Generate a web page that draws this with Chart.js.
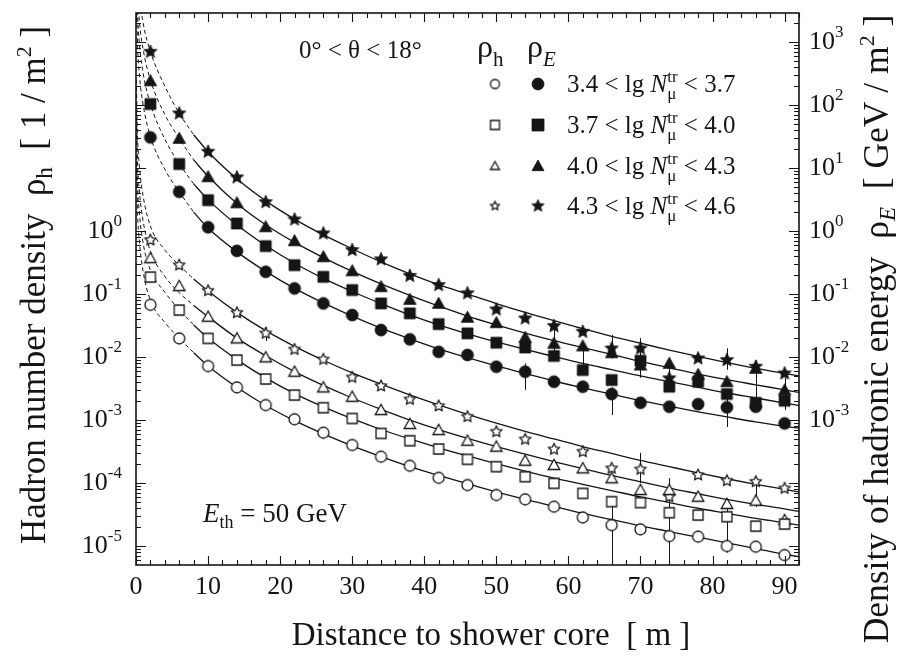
<!DOCTYPE html>
<html>
<head>
<meta charset="utf-8">
<script src="https://cdn.jsdelivr.net/npm/chart.js@4.4.1/dist/chart.umd.min.js"></script>
<style>
html, body { margin: 0; padding: 0; background: #fff; }
#wrap { width: 908px; height: 656px; }
</style>
</head>
<body>
<div id="wrap"><canvas id="c" width="908" height="656"></canvas></div>
<script>
// distance of the bins [m]
const distances = [2, 6, 10, 14, 18, 22, 26, 30, 34, 38, 42, 46, 50, 54, 58, 62, 66, 70, 74, 78, 82, 86, 90];

// hadron number density rho_h [1/m^2], open symbols, left axis
const rhoH1 = [0.0676, 0.0198, 0.00719, 0.00330, 0.00173, 0.00103, 0.000630, 0.000401, 0.000262, 0.000188, 0.000121, 0.0000929, 0.0000646, 0.0000551, 0.0000421, 0.0000285, 0.0000215, 0.0000184, 0.0000144, 0.0000141, 0.0000100, 0.00000975, 0.00000719];
const rhoH2 = [0.186, 0.0557, 0.0198, 0.00895, 0.00448, 0.00249, 0.00157, 0.00106, 0.000614, 0.000470, 0.000347, 0.000238, 0.000182, 0.000126, 0.0000989, 0.0000685, 0.0000506, 0.0000488, 0.0000338, 0.0000310, 0.0000292, 0.0000207, 0.0000223];
const rhoH3 = [0.372, 0.134, 0.0437, 0.0198, 0.00989, 0.00585, 0.00330, 0.00234, 0.00144, 0.000865, 0.000693, 0.000470, 0.000378, 0.000226, 0.000193, 0.000171, 0.000119, 0.0000774, 0.0000774, 0.0000607, 0.0000465, 0.0000525, 0.0000259];
const rhoH4 = [0.719, 0.288, 0.113, 0.0505, 0.0238, 0.0132, 0.00918, 0.00476, 0.00347, 0.00213, 0.00167, 0.00113, 0.000653, 0.000493, 0.000343, 0.000314, 0.000171, 0.000165, 0.0000607, 0.000134, 0.000109, 0.000105, 0.0000822];

// hadronic energy density rho_E [GeV/m^2], filled symbols, right axis
const rhoE1 = [30.7, 4.21, 1.15, 0.486, 0.226, 0.123, 0.0711, 0.0465, 0.0269, 0.0191, 0.0121, 0.0108, 0.00703, 0.00585, 0.00406, 0.00338, 0.00259, 0.00188, 0.00163, 0.00179, 0.00159, 0.00163, 0.000885];
const rhoE2 = [104, 11.6, 3.10, 1.32, 0.578, 0.288, 0.188, 0.116, 0.0711, 0.0494, 0.0334, 0.0238, 0.0169, 0.0142, 0.0104, 0.00622, 0.00432, 0.00875, 0.00338, 0.00406, 0.00259, 0.00188, 0.00203];
const rhoE3 = [243, 29.6, 7.28, 2.81, 1.17, 0.701, 0.391, 0.234, 0.131, 0.0824, 0.0711, 0.0427, 0.0351, 0.0205, 0.0165, 0.0150, 0.0117, 0.00746, 0.00793, 0.0053, 0.00406, 0.00661, 0.0030];
const rhoE4 = [702, 73.8, 18.2, 7.11, 2.88, 1.53, 0.918, 0.499, 0.356, 0.195, 0.139, 0.103, 0.0571, 0.0411, 0.0310, 0.0252, 0.0137, 0.0137, 0.00459, 0.00953, 0.00895, 0.00703, 0.00551];

// fitted lateral distributions
const fitX = [0.05, 0.2, 0.5, 1, 2, 4, 6, 8, 10, 14, 18, 22, 26, 30, 34, 38, 42, 46, 50, 54, 58, 62, 66, 70, 74, 78, 82, 86, 90, 92];
const fitH1 = [15.8, 2.24, 0.631, 0.224, 0.0794, 0.0355, 0.0200, 0.0117, 0.00724, 0.00331, 0.00170, 0.000977, 0.000603, 0.000389, 0.000263, 0.000182, 0.000132, 0.0000977, 0.0000724, 0.0000550, 0.0000427, 0.0000331, 0.0000263, 0.0000209, 0.0000170, 0.0000138, 0.0000112, 0.00000912, 0.00000741, 0.00000676];
const fitH2 = [44.7, 6.31, 1.78, 0.631, 0.240, 0.107, 0.0562, 0.0324, 0.0200, 0.00912, 0.00468, 0.00263, 0.00162, 0.00105, 0.000708, 0.000501, 0.000363, 0.000269, 0.000204, 0.000155, 0.000120, 0.0000955, 0.0000759, 0.0000603, 0.0000490, 0.0000398, 0.0000331, 0.0000275, 0.0000234, 0.0000214];
const fitH3 = [100, 14.1, 3.98, 1.41, 0.479, 0.191, 0.105, 0.0661, 0.0437, 0.0200, 0.0105, 0.00589, 0.00355, 0.00224, 0.00148, 0.00100, 0.000708, 0.000513, 0.000380, 0.000288, 0.000219, 0.000170, 0.000132, 0.000105, 0.0000832, 0.0000676, 0.0000550, 0.0000457, 0.0000389, 0.0000355];
const fitH4 = [251, 35.5, 10, 3.55, 1.20, 0.501, 0.288, 0.174, 0.112, 0.0513, 0.0263, 0.0148, 0.00891, 0.00562, 0.00372, 0.00251, 0.00174, 0.00123, 0.000891, 0.000661, 0.000501, 0.000380, 0.000295, 0.000229, 0.000182, 0.000145, 0.000117, 0.0000955, 0.0000794, 0.0000724];
const fitE1 = [8910, 1120, 282, 100, 31.6, 9.55, 4.17, 2.0, 1.12, 0.468, 0.229, 0.123, 0.0724, 0.0447, 0.0288, 0.0195, 0.0135, 0.00977, 0.00724, 0.00550, 0.00417, 0.00324, 0.00257, 0.00204, 0.00166, 0.00135, 0.00112, 0.000933, 0.000794, 0.000741];
const fitE2 = [31600, 3550, 891, 316, 105, 28.8, 11.7, 5.62, 3.16, 1.26, 0.589, 0.309, 0.178, 0.110, 0.0708, 0.0468, 0.0324, 0.0234, 0.0174, 0.0132, 0.0102, 0.00794, 0.00631, 0.00501, 0.00407, 0.00331, 0.00269, 0.00224, 0.00186, 0.00170];
const fitE3 = [70800, 7940, 2000, 759, 251, 70.8, 29.5, 13.5, 7.41, 2.75, 1.26, 0.661, 0.380, 0.229, 0.145, 0.0955, 0.0646, 0.0447, 0.0324, 0.0240, 0.0182, 0.0141, 0.0110, 0.00851, 0.00676, 0.00537, 0.00437, 0.00363, 0.00302, 0.00275];
const fitE4 = [200000, 22400, 5620, 2000, 708, 200, 74.1, 33.9, 18.2, 6.76, 3.02, 1.55, 0.871, 0.525, 0.324, 0.209, 0.141, 0.100, 0.0708, 0.0513, 0.0380, 0.0282, 0.0214, 0.0166, 0.0129, 0.0102, 0.00813, 0.00661, 0.00550, 0.00501];
const fitSolidFrom = 8; // fit range starts here, dashed below

// error bars: [distance, upper, lower]
const errorBars = [
    [18, 0.030, 0.018], [54, 0.00794, 0.00302], [58, 0.035, 0.0105], [62, 0.0155, 0.0063],
    [66, 0.00331, 0.00120], [66, 0.0224, 0.0095], [70, 0.0200, 0.00468], [74, 0.0095, 0.0030],
    [82, 0.0138, 0.00631], [82, 0.00224, 0.000776], [86, 0.00891, 0.00145], [90, 0.00479, 0.00145],
    [70, 0.000302, 0.0001], [66, 0.0000603, 0.000001], [74, 0.000120, 0.000001],
    [82, 0.0000537, 0.0000079], [86, 0.000105, 0.0000417], [74, 0.000100, 0.000050]
];

// axis labels
const xTickLabels = ['0', '10', '20', '30', '40', '50', '60', '70', '80', '90'];
const leftExponents = ['0', '-1', '-2', '-3', '-4', '-5'];
const rightExponents = ['3', '2', '1', '0', '-1', '-2', '-3'];
const muonBins = ['3.4', '3.7', '4.0', '4.3', '4.6'];

const SERIF = '"Liberation Serif", "DejaVu Serif", serif';
const INK = '#151515';

// 마커 이미지
function makeMarker(shape, filled, size) {
    const d = Math.ceil(size) + 4;
    const c = document.createElement('canvas');
    c.width = d; c.height = d;
    const g = c.getContext('2d');
    const m = d / 2, r = size / 2;
    g.beginPath();
    if (shape === 'circle') {
        g.arc(m, m, r, 0, Math.PI * 2);
    } else if (shape === 'square') {
        g.rect(m - r, m - r, size, size);
    } else if (shape === 'triangle') {
        g.moveTo(m, m - r);
        g.lineTo(m + r, m + r * 0.78);
        g.lineTo(m - r, m + r * 0.78);
        g.closePath();
    } else {
        for (let k = 0; k < 10; k++) {
            const a = -Math.PI / 2 + k * Math.PI / 5;
            const rr = k % 2 ? r * (filled ? 0.46 : 0.5) : r;
            g.lineTo(m + rr * Math.cos(a), m + rr * Math.sin(a));
        }
        g.closePath();
    }
    g.fillStyle = filled ? INK : '#fff';
    g.strokeStyle = INK;
    g.lineWidth = filled ? 0.8 : 1.3;
    g.fill();
    g.stroke();
    return c;
}

const shapes = ['circle', 'square', 'triangle', 'star'];
const openSize = { circle: 11, square: 10, triangle: 11.5, star: 11.5 };
const fillSize = { circle: 12, square: 11, triangle: 12.5, star: 14 };
const hSeries = [rhoH1, rhoH2, rhoH3, rhoH4];
const eSeries = [rhoE1, rhoE2, rhoE3, rhoE4];
const hFits = [fitH1, fitH2, fitH3, fitH4];
const eFits = [fitE1, fitE2, fitE3, fitE4];

function pointsOf(xs, ys) {
    return xs.map((x, i) => ({ x: x, y: ys[i] }));
}

function curveSets(fit, axis) {
    const all = pointsOf(fitX, fit);
    const base = { showLine: true, borderColor: INK, borderWidth: 1.3, pointRadius: 0, cubicInterpolationMode: 'monotone', yAxisID: axis, order: 3 };
    return [
        Object.assign({}, base, { data: all.filter(p => p.x <= fitSolidFrom), borderDash: [4, 3], borderWidth: 1 }),
        Object.assign({}, base, { data: all.filter(p => p.x >= fitSolidFrom) })
    ];
}

const datasets = [];
hFits.forEach(f => datasets.push(...curveSets(f, 'y')));
eFits.forEach(f => datasets.push(...curveSets(f, 'y2')));
hSeries.forEach((s, i) => datasets.push({
    data: pointsOf(distances, s), showLine: false, yAxisID: 'y', order: 1,
    pointStyle: makeMarker(shapes[i], false, openSize[shapes[i]]), pointRadius: 5
}));
eSeries.forEach((s, i) => datasets.push({
    data: pointsOf(distances, s), showLine: false, yAxisID: 'y2', order: 1,
    pointStyle: makeMarker(shapes[i], true, fillSize[shapes[i]]), pointRadius: 5
}));

// 글자 (첨자 포함)
function rich(ctx, parts, x, y, align) {
    let w = 0;
    parts.forEach(p => {
        ctx.font = (p.i ? 'italic ' : '') + p.s + 'px ' + SERIF;
        p.w = ctx.measureText(p.t).width;
        if (!p.stay) w += p.w;
    });
    let cx = align === 'right' ? x - w : align === 'center' ? x - w / 2 : x;
    parts.forEach(p => {
        ctx.font = (p.i ? 'italic ' : '') + p.s + 'px ' + SERIF;
        ctx.fillText(p.t, cx, y + (p.dy || 0));
        if (!p.stay) cx += p.w;
    });
}

const yMin = 5.0e-6, yMax = 2900;

const framePlugin = {
    id: 'frame',
    beforeDatasetsDraw(chart) {
        const { ctx, chartArea: a, scales } = chart;
        ctx.save();
        ctx.beginPath();
        ctx.rect(a.left, a.top, a.right - a.left, a.bottom - a.top);
        ctx.clip();
        ctx.strokeStyle = INK;
        ctx.lineWidth = 1;
        errorBars.forEach(([x, hi, lo]) => {
            const px = Math.round(scales.x.getPixelForValue(x)) + 0.5;
            ctx.beginPath();
            ctx.moveTo(px, scales.y.getPixelForValue(hi));
            ctx.lineTo(px, scales.y.getPixelForValue(lo));
            ctx.stroke();
        });
        ctx.restore();
    },
    afterDraw(chart) {
        const { ctx, chartArea: a, scales } = chart;
        const xs = scales.x, ys = scales.y;
        ctx.save();
        ctx.strokeStyle = INK;
        ctx.fillStyle = INK;
        ctx.lineWidth = 1.6;
        ctx.strokeRect(a.left, a.top, a.right - a.left, a.bottom - a.top);

        // ticks, pointing inwards
        ctx.lineWidth = 1.1;
        ctx.beginPath();
        for (let v = 0; v <= 92; v += 2) {
            const px = Math.round(xs.getPixelForValue(v)) + 0.5;
            const len = v % 10 === 0 ? 9 : 5;
            ctx.moveTo(px, a.bottom); ctx.lineTo(px, a.bottom - len);
            ctx.moveTo(px, a.top); ctx.lineTo(px, a.top + len);
        }
        for (let e = -6; e <= 3; e++) {
            for (let k = 1; k <= 9; k++) {
                const v = k * Math.pow(10, e);
                if (v < yMin || v > yMax) continue;
                const py = Math.round(ys.getPixelForValue(v)) + 0.5;
                const len = k === 1 ? 10 : 5;
                ctx.moveTo(a.left, py); ctx.lineTo(a.left + len, py);
                ctx.moveTo(a.right, py); ctx.lineTo(a.right - len, py);
            }
        }
        ctx.stroke();

        // tick labels
        ctx.textBaseline = 'alphabetic';
        xTickLabels.forEach(t => {
            rich(ctx, [{ t: t, s: 26 }], xs.getPixelForValue(Number(t)), a.bottom + 29, 'center');
        });
        leftExponents.forEach(e => {
            const py = ys.getPixelForValue(Math.pow(10, Number(e)));
            rich(ctx, [{ t: '10', s: 26 }, { t: e, s: 17, dy: -12 }], a.left - 14, py + 7, 'right');
        });
        rightExponents.forEach(e => {
            const py = scales.y2.getPixelForValue(Math.pow(10, Number(e)));
            rich(ctx, [{ t: '10', s: 26 }, { t: e, s: 17, dy: -12 }], a.right + 10, py + 7, 'left');
        });

        // axis titles
        rich(ctx, [{ t: 'Distance to shower core  [ m ]', s: 33 }], 491, 645, 'center');
        ctx.save();
        ctx.translate(45, 285);
        ctx.rotate(-Math.PI / 2);
        rich(ctx, [{ t: 'Hadron number density  ', s: 35 }, { t: 'ρ', s: 35 }, { t: 'h', s: 23, dy: 7 },
            { t: '  [ 1 / m', s: 35 }, { t: '2', s: 22, dy: -14 }, { t: ' ]', s: 35 }], 0, 0, 'center');
        ctx.restore();
        ctx.save();
        ctx.translate(888, 329);
        ctx.rotate(-Math.PI / 2);
        rich(ctx, [{ t: 'Density of hadronic energy  ', s: 35.5 }, { t: 'ρ', s: 35.5 }, { t: 'E', s: 23, i: 1, dy: 7 },
            { t: '  [ GeV / m', s: 35.5 }, { t: '2', s: 22, dy: -14 }, { t: ' ]', s: 35.5 }], 0, 0, 'center');
        ctx.restore();

        // annotations
        rich(ctx, [{ t: '0° < θ < 18°', s: 25 }], 299, 58, 'left');
        rich(ctx, [{ t: 'E', s: 27, i: 1 }, { t: 'th', s: 18, dy: 6 }, { t: ' = 50 GeV', s: 27 }], 203, 522, 'left');

        // legend
        rich(ctx, [{ t: 'ρ', s: 32 }, { t: 'h', s: 21, dy: 9 }], 477, 57, 'left');
        rich(ctx, [{ t: 'ρ', s: 32 }, { t: 'E', s: 21, i: 1, dy: 9 }], 527, 57, 'left');
        const rowY = [84, 125, 166, 206];
        rowY.forEach((y, i) => {
            const o = makeMarker(shapes[i], false, 9);
            const f = makeMarker(shapes[i], true, shapes[i] === 'star' ? 13 : 12);
            ctx.drawImage(o, 495 - o.width / 2, y - o.height / 2);
            ctx.drawImage(f, 538 - f.width / 2, y - f.height / 2);
            rich(ctx, [{ t: muonBins[i] + ' < lg ', s: 25 }, { t: 'N', s: 25, i: 1 },
                { t: 'μ', s: 17, dy: 7, stay: true }, { t: 'tr', s: 17, dy: -10 },
                { t: ' < ' + muonBins[i + 1], s: 25 }], 567, y + 8, 'left');
        });
        ctx.restore();
    }
};

new Chart(document.getElementById('c'), {
    type: 'scatter',
    data: { datasets: datasets },
    options: {
        responsive: false,
        animation: false,
        events: [],
        layout: { padding: { left: 136, right: 109, top: 13, bottom: 91 } },
        scales: {
            x: { type: 'linear', min: 0, max: 92, display: false },
            y: { type: 'logarithmic', min: yMin, max: yMax, display: false, bounds: 'data' },
            y2: { type: 'logarithmic', min: yMin, max: yMax, display: false, bounds: 'data' }
        },
        plugins: { legend: { display: false }, tooltip: { enabled: false } }
    },
    plugins: [framePlugin]
});
</script>
</body>
</html>
